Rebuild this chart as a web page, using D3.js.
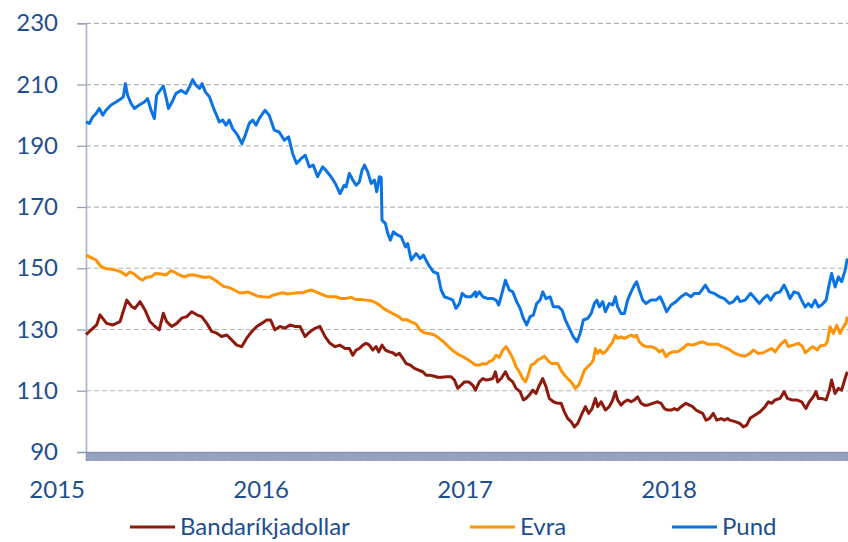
<!DOCTYPE html>
<html lang="is">
<head>
<meta charset="UTF-8">
<title>Gengi</title>
<script src="https://d3js.org/d3.v7.min.js"></script>
<style>
  body { margin: 0; background: #fff; }
  text { font-family: Lato, "Open Sans", sans-serif; fill: #1d4f8e; }
</style>
</head>
<body>
<svg width="848" height="542"></svg>
<script>
// ticks and labels
const yTicks = [90, 110, 130, 150, 170, 190, 210, 230];
const years = [2015, 2016, 2017, 2018];
const seriesNames = ["Bandaríkjadollar", "Evra", "Pund"];

// [year fraction, index value]
const usd = [[2015.000,128.3],[2015.052,131.5],[2015.069,134.8],[2015.101,132.0],[2015.132,131.5],[2015.167,132.6],[2015.200,139.6],[2015.224,137.5],[2015.240,136.9],[2015.265,139.1],[2015.289,136.4],[2015.314,132.6],[2015.338,131.0],[2015.359,129.9],[2015.379,135.3],[2015.395,132.6],[2015.420,131.0],[2015.445,132.0],[2015.469,133.7],[2015.494,134.2],[2015.518,135.8],[2015.543,134.8],[2015.567,134.2],[2015.592,132.0],[2015.616,129.4],[2015.641,128.8],[2015.665,127.7],[2015.690,128.2],[2015.714,126.6],[2015.739,124.9],[2015.763,124.4],[2015.787,127.1],[2015.812,129.3],[2015.837,131.0],[2015.861,132.0],[2015.886,133.1],[2015.905,133.1],[2015.926,129.9],[2015.951,131.0],[2015.975,130.4],[2016.000,131.5],[2016.025,131.0],[2016.049,131.0],[2016.074,127.7],[2016.098,129.3],[2016.123,130.4],[2016.147,131.0],[2016.172,127.7],[2016.196,125.5],[2016.221,124.4],[2016.245,124.9],[2016.270,123.8],
  [2016.291,123.8],[2016.308,121.6],[2016.324,123.3],[2016.340,123.8],[2016.357,124.9],[2016.373,125.5],[2016.389,124.9],[2016.406,123.3],[2016.422,124.4],[2016.435,122.7],[2016.451,124.9],[2016.468,123.3],[2016.487,122.7],[2016.504,122.4],[2016.520,121.6],[2016.536,122.2],[2016.553,120.6],[2016.569,118.9],[2016.589,118.4],[2016.610,117.3],[2016.631,116.7],[2016.651,116.2],[2016.667,115.1],[2016.683,115.1],[2016.703,114.8],[2016.724,114.4],[2016.746,114.4],[2016.765,114.6],[2016.790,114.6],[2016.806,113.5],[2016.822,110.8],[2016.839,111.8],[2016.855,112.9],[2016.876,112.9],[2016.896,111.8],[2016.909,110.2],
  [2016.928,112.9],[2016.945,114.0],[2016.961,113.5],[2016.977,113.7],[2016.994,114.0],[2017.007,116.2],[2017.018,112.9],[2017.035,114.0],[2017.056,116.2],[2017.072,114.0],[2017.092,112.9],[2017.108,110.8],[2017.128,109.7],[2017.144,107.0],[2017.157,107.5],[2017.173,108.6],[2017.190,110.2],[2017.206,109.1],[2017.219,111.3],[2017.239,114.0],[2017.255,111.3],[2017.271,107.5],[2017.291,106.4],[2017.312,105.9],[2017.329,105.9],[2017.345,103.1],[2017.361,101.0],[2017.378,99.9],[2017.394,98.2],[2017.410,99.3],[2017.432,102.6],[2017.448,104.8],[2017.464,102.6],[2017.481,104.2],[2017.497,107.5],[2017.508,104.8],[2017.525,106.4],[2017.546,103.7],
  [2017.565,104.8],[2017.582,107.0],[2017.595,109.7],[2017.606,107.0],[2017.623,105.3],[2017.639,106.4],[2017.655,107.0],[2017.672,106.4],[2017.688,107.0],[2017.704,108.0],[2017.721,105.9],[2017.737,105.3],[2017.753,105.3],[2017.778,105.9],[2017.802,106.4],[2017.819,105.9],[2017.835,104.2],[2017.851,103.7],[2017.868,103.7],[2017.884,104.2],[2017.900,103.7],[2017.917,104.8],[2017.941,105.9],[2017.958,105.3],[2017.974,104.8],[2017.990,103.7],[2018.007,103.1],[2018.023,102.6],[2018.039,100.4],[2018.056,100.9],[2018.075,102.6],[2018.092,100.4],[2018.113,100.9],[2018.129,100.4],[2018.145,100.9],
  [2018.157,100.4],[2018.182,99.9],[2018.206,99.3],[2018.222,98.2],[2018.239,98.8],[2018.255,101.0],[2018.280,102.1],[2018.304,103.1],[2018.329,104.8],[2018.345,106.4],[2018.361,105.9],[2018.378,107.0],[2018.402,107.5],[2018.422,109.7],[2018.438,107.5],[2018.459,107.0],[2018.484,107.0],[2018.508,106.4],[2018.529,104.2],[2018.546,106.4],[2018.565,108.0],[2018.578,109.7],[2018.590,107.5],[2018.606,107.5],[2018.628,107.0],[2018.644,110.2],[2018.655,113.5],[2018.672,109.1],[2018.688,110.8],[2018.704,110.2],[2018.721,114.0],[2018.732,116.2]];

const eur = [[2015.000,154.3],[2015.025,153.5],[2015.049,152.7],[2015.074,150.5],[2015.098,149.9],[2015.123,149.7],[2015.147,149.4],[2015.172,148.8],[2015.196,147.7],[2015.216,148.8],[2015.237,148.1],[2015.261,146.7],[2015.278,146.1],[2015.294,147.0],[2015.319,147.2],[2015.340,148.3],[2015.368,148.1],[2015.392,147.8],[2015.417,149.2],[2015.433,148.8],[2015.458,147.8],[2015.482,147.2],[2015.507,147.8],[2015.531,147.8],[2015.556,147.4],[2015.580,147.0],[2015.605,147.2],[2015.634,146.1],
  [2015.653,145.1],[2015.678,144.0],[2015.702,143.7],[2015.727,142.9],[2015.751,142.0],[2015.776,142.0],[2015.792,142.3],[2015.817,141.6],[2015.841,140.9],[2015.866,140.7],[2015.898,140.5],[2015.915,141.2],[2015.939,141.6],[2015.964,142.0],[2015.988,141.6],[2016.013,141.8],[2016.037,142.0],[2016.062,142.0],[2016.086,142.6],[2016.103,142.9],[2016.127,142.3],[2016.152,141.6],[2016.176,140.9],[2016.201,140.7],[2016.226,140.7],[2016.250,140.1],[2016.271,140.1],
  [2016.300,140.5],[2016.324,139.8],[2016.349,139.8],[2016.373,139.6],[2016.398,139.4],[2016.422,138.7],[2016.438,138.0],[2016.458,136.9],[2016.479,136.1],[2016.504,135.2],[2016.528,134.4],[2016.553,133.1],[2016.569,133.3],[2016.594,132.5],[2016.618,131.8],[2016.638,129.8],[2016.659,128.9],[2016.683,128.7],[2016.708,128.2],[2016.732,127.1],[2016.757,125.7],[2016.782,124.1],[2016.806,122.7],[2016.831,121.6],[2016.855,120.9],[2016.880,119.8],[2016.909,118.4],
  [2016.928,118.4],[2016.945,118.9],[2016.961,118.7],[2016.977,119.5],[2016.994,120.0],[2017.010,121.6],[2017.026,120.9],[2017.043,123.3],[2017.059,124.4],[2017.075,122.7],[2017.092,120.6],[2017.108,117.8],[2017.124,116.2],[2017.141,114.0],[2017.154,112.9],[2017.165,114.6],[2017.182,118.4],[2017.198,118.9],[2017.214,120.0],[2017.231,120.6],[2017.247,121.3],[2017.263,120.0],[2017.280,118.9],[2017.296,118.9],[2017.312,118.9],[2017.329,116.7],[2017.345,115.1],[2017.361,114.0],[2017.378,112.9],[2017.399,110.8],[2017.415,111.8],[2017.432,114.6],[2017.443,116.7],[2017.459,117.8],[2017.476,118.9],[2017.487,120.0],[2017.497,123.8],[2017.508,122.2],[2017.520,123.3],[2017.533,122.2],[2017.546,122.7],
  [2017.565,124.4],[2017.582,126.0],[2017.595,128.2],[2017.606,127.1],[2017.623,127.6],[2017.639,127.1],[2017.655,127.6],[2017.672,128.2],[2017.688,127.6],[2017.699,128.2],[2017.712,126.0],[2017.729,124.9],[2017.745,124.4],[2017.770,124.4],[2017.794,123.8],[2017.810,122.7],[2017.827,123.3],[2017.843,121.1],[2017.859,122.2],[2017.876,122.7],[2017.900,122.7],[2017.925,123.8],[2017.949,125.2],[2017.974,124.9],[2017.998,125.5],[2018.023,126.0],[2018.047,125.2],[2018.072,125.2],[2018.096,125.2],[2018.121,124.4],[2018.145,123.8],
  [2018.157,123.3],[2018.182,122.2],[2018.206,121.6],[2018.231,121.3],[2018.255,122.2],[2018.271,123.3],[2018.296,122.2],[2018.320,122.4],[2018.345,123.3],[2018.361,123.8],[2018.378,122.7],[2018.402,124.9],[2018.427,126.5],[2018.443,124.4],[2018.467,124.9],[2018.492,125.5],[2018.513,124.4],[2018.525,122.4],[2018.541,123.3],[2018.562,124.4],[2018.585,123.3],[2018.598,124.6],[2018.623,124.9],[2018.634,126.0],[2018.647,130.9],[2018.664,128.7],[2018.680,131.4],[2018.696,128.7],[2018.713,130.9],[2018.725,132.0],[2018.732,134.2]];

const gbp = [[2015.000,197.8],[2015.016,197.3],[2015.033,199.4],[2015.049,200.5],[2015.065,202.2],[2015.082,200.0],[2015.098,201.6],[2015.123,203.3],[2015.147,204.3],[2015.172,205.4],[2015.183,206.0],[2015.193,210.3],[2015.204,206.5],[2015.221,203.8],[2015.237,202.2],[2015.261,203.3],[2015.286,204.3],[2015.302,205.4],[2015.319,201.6],[2015.335,198.9],[2015.346,206.5],[2015.363,208.1],[2015.379,209.5],[2015.392,206.0],[2015.404,202.2],[2015.422,204.3],[2015.441,207.1],[2015.466,208.1],[2015.490,207.1],[2015.507,209.2],[2015.523,211.6],[2015.539,209.8],[2015.556,208.7],[2015.569,210.3],[2015.585,207.6],[2015.605,206.0],[2015.629,201.6],
  [2015.637,200.5],[2015.653,197.8],[2015.670,198.4],[2015.686,196.7],[2015.702,198.4],[2015.719,195.6],[2015.743,193.5],[2015.764,190.7],[2015.781,193.5],[2015.800,197.3],[2015.817,198.4],[2015.833,196.7],[2015.849,198.9],[2015.877,201.6],[2015.898,200.0],[2015.923,195.1],[2015.947,194.5],[2015.972,191.8],[2015.993,192.9],[2016.013,187.5],[2016.032,184.2],[2016.054,185.8],[2016.075,186.9],[2016.095,183.1],[2016.114,183.7],[2016.135,179.9],[2016.160,183.1],[2016.176,182.0],[2016.201,179.9],[2016.222,177.7],[2016.245,174.4],[2016.266,177.1],
  [2016.275,176.6],[2016.291,181.0],[2016.308,178.8],[2016.324,177.1],[2016.340,178.2],[2016.353,182.0],[2016.365,183.7],[2016.381,181.5],[2016.398,177.7],[2016.414,178.8],[2016.425,175.0],[2016.438,179.9],[2016.447,179.6],[2016.451,165.7],[2016.468,164.6],[2016.479,161.4],[2016.492,159.2],[2016.507,161.9],[2016.528,160.8],[2016.545,160.3],[2016.566,157.0],[2016.577,158.1],[2016.594,152.7],[2016.618,154.8],[2016.638,153.2],[2016.654,154.3],[2016.680,151.0],[2016.703,148.8],[2016.724,148.3],[2016.741,142.9],[2016.757,140.7],[2016.782,140.1],[2016.798,139.6],[2016.814,136.9],[2016.831,138.5],[2016.844,141.8],[2016.863,140.7],[2016.888,140.7],[2016.909,142.3],
  [2016.912,140.7],[2016.928,142.3],[2016.945,140.7],[2016.969,140.1],[2016.994,140.1],[2017.010,139.6],[2017.023,138.0],[2017.039,141.8],[2017.056,146.1],[2017.075,142.9],[2017.092,142.3],[2017.111,139.1],[2017.128,136.9],[2017.144,133.6],[2017.160,131.5],[2017.177,134.2],[2017.193,134.7],[2017.209,138.5],[2017.226,139.6],[2017.239,142.3],[2017.255,140.1],[2017.275,140.7],[2017.291,137.4],[2017.317,137.4],[2017.334,136.3],[2017.350,133.1],[2017.370,130.3],[2017.389,127.6],[2017.407,126.0],[2017.422,128.7],[2017.438,133.1],[2017.459,133.6],[2017.476,135.2],[2017.492,138.5],[2017.504,139.6],[2017.517,137.4],[2017.533,139.1],[2017.546,135.8],
  [2017.565,138.5],[2017.582,138.0],[2017.595,140.7],[2017.606,137.4],[2017.623,135.2],[2017.639,135.2],[2017.655,139.6],[2017.672,142.3],[2017.688,144.5],[2017.699,145.6],[2017.712,142.9],[2017.729,139.6],[2017.745,138.5],[2017.770,139.6],[2017.794,139.6],[2017.814,140.7],[2017.830,138.5],[2017.846,135.8],[2017.868,138.0],[2017.892,139.1],[2017.917,140.7],[2017.941,141.8],[2017.966,140.7],[2017.982,141.8],[2018.007,141.8],[2018.036,144.5],[2018.056,142.3],[2018.080,141.8],[2018.105,140.7],[2018.129,140.1],[2018.154,138.5],
  [2018.173,139.1],[2018.193,140.7],[2018.206,139.1],[2018.231,139.6],[2018.258,141.8],[2018.280,140.1],[2018.301,138.5],[2018.320,140.1],[2018.340,141.2],[2018.356,139.6],[2018.378,141.8],[2018.402,142.3],[2018.422,144.5],[2018.438,142.3],[2018.451,140.1],[2018.471,142.3],[2018.492,141.8],[2018.508,139.6],[2018.525,137.4],[2018.541,138.5],[2018.557,137.4],[2018.574,139.6],[2018.590,137.4],[2018.606,138.0],[2018.628,139.6],[2018.644,145.0],[2018.655,148.3],[2018.672,143.9],[2018.688,147.2],[2018.704,145.6],[2018.721,149.3],[2018.732,153.2]];

const colors = ["#8e1a0e", "#ff9408", "#0b74e4"];
const allSeries = [usd, eur, gbp];

const width = 848, height = 542;
const margin = {top: 23.3, right: 0, bottom: 90, left: 86};

const svg = d3.select("svg");

const x = d3.scaleLinear()
    .domain([2015, 2015 + 762 / 204])
    .range([margin.left, width - margin.right]);

const y = d3.scaleLinear()
    .domain([90, 230])
    .range([height - margin.bottom, margin.top]);

// dashed gridlines
svg.append("g")
    .selectAll("line")
    .data(yTicks.filter(d => d > 90))
    .join("line")
    .attr("x1", margin.left)
    .attr("x2", width)
    .attr("y1", d => y(d))
    .attr("y2", d => y(d))
    .attr("stroke", "#b5b5b5")
    .attr("stroke-width", 1.2)
    .attr("stroke-dasharray", "5,3");

// y axis
const yAxis = svg.append("g")
    .attr("transform", `translate(${margin.left},0)`)
    .call(d3.axisLeft(y).tickValues(yTicks).tickSize(9).tickPadding(19).tickFormat(d3.format("d")));
yAxis.select(".domain").attr("stroke", "#a9b3cb").attr("stroke-width", 1.6);
yAxis.selectAll(".tick line").attr("stroke", "#8d99b8").attr("stroke-width", 1.2);
yAxis.selectAll(".tick text")
    .attr("font-size", 24)
    .attr("fill", "#1d4f8e")
    .style("font-family", "Lato, sans-serif");

// dense date ticks band along the bottom
const bandTicks = d3.range(2015, 2015 + 762 / 204, 1 / 300);
const xBand = svg.append("g")
    .attr("transform", `translate(0,${y(90)})`)
    .call(d3.axisBottom(x).tickValues(bandTicks).tickSize(9).tickFormat(""));
xBand.select(".domain").attr("stroke", "#8d99b8").attr("stroke-width", 1.5);
xBand.selectAll(".tick line").attr("stroke", "#8995b5").attr("stroke-width", 0.9);

// year labels
svg.append("g")
    .selectAll("text")
    .data(years)
    .join("text")
    .attr("x", d => x(d) - 1)
    .attr("y", 498)
    .attr("text-anchor", "end")
    .attr("font-size", 24)
    .text(d => d);

// lines
const line = d3.line()
    .x(d => x(d[0]))
    .y(d => y(d[1]));

svg.append("g")
    .selectAll("path")
    .data(allSeries)
    .join("path")
    .attr("fill", "none")
    .attr("stroke", (d, i) => colors[i])
    .attr("stroke-width", 3)
    .attr("stroke-linejoin", "round")
    .attr("d", line);

// legend
const legendX = [130, 470, 672];
const leg = svg.append("g")
    .selectAll("g")
    .data(seriesNames)
    .join("g")
    .attr("transform", (d, i) => `translate(${legendX[i]},527)`);
leg.append("line")
    .attr("x1", 0)
    .attr("x2", 45)
    .attr("stroke", (d, i) => colors[i])
    .attr("stroke-width", 3);
leg.append("text")
    .attr("x", 50)
    .attr("dy", "0.35em")
    .attr("font-size", 24)
    .text(d => d);
</script>
</body>
</html>
